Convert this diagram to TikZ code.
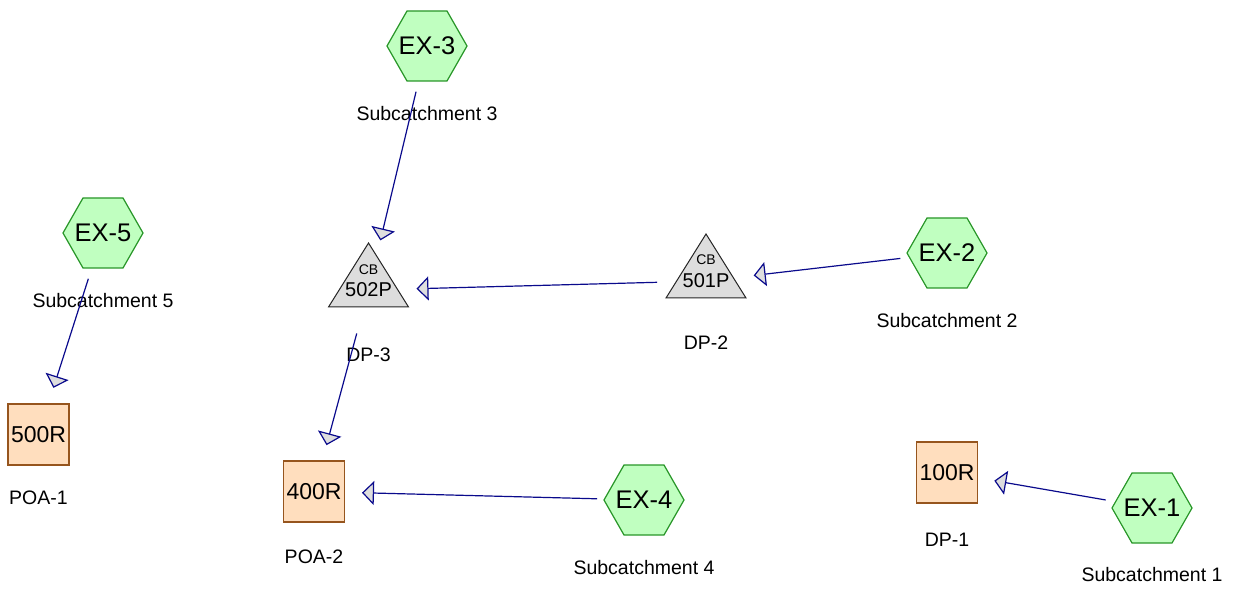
\documentclass[tikz,border=0pt]{standalone}
\usepackage{fontspec}
\setmainfont{Liberation Sans}
\usetikzlibrary{arrows.meta}

\definecolor{hexfill}{RGB}{192,255,192}
\definecolor{hexline}{RGB}{40,150,40}
\definecolor{reachfill}{RGB}{255,222,190}
\definecolor{reachline}{RGB}{150,85,30}
\definecolor{pondfill}{RGB}{221,221,221}
\definecolor{flowline}{RGB}{10,10,140}
\definecolor{tipfill}{RGB}{222,222,222}

\tikzset{
  hexcell/.style={draw=hexline, fill=hexfill, line width=1.2pt, line join=miter},
  subcat/.style={inner sep=0pt, font=\fontsize{25.5}{28}\selectfont},
  reach/.style={rectangle, minimum size=61pt, inner sep=0pt, draw=reachline,
    fill=reachfill, line width=1.2pt, font=\fontsize{23}{26}\selectfont},
  pondshape/.style={draw=black!85, fill=pondfill, line width=1pt, line join=miter},
  pondid/.style={inner sep=0pt, font=\fontsize{20}{22}\selectfont},
  pondtag/.style={inner sep=0pt, font=\fontsize{14}{16}\selectfont},
  caption/.style={inner sep=0pt, font=\fontsize{19.5}{22}\selectfont},
  flow/.style={draw=flowline, line width=1.2pt,
    -{Triangle[length=12pt,width=24pt,fill=tipfill]},
    shorten <=47pt, shorten >=48pt},
}

\begin{document}
\begin{tikzpicture}[x=1pt,y=-1pt]
\useasboundingbox (0,0) rectangle (1233,593);

% subcatchments: hexagon outlines, then their names
\foreach \cx/\cy in {1152/508, 947/253, 427/46, 644/500, 103/233}
  \draw[hexcell, shift={(\cx,\cy)}]
    (-40,0) -- (-20,-35) -- (20,-35) -- (40,0) -- (20,35) -- (-20,35) -- cycle;
\node[subcat] (ex1) at (1152,508) {EX-1};
\node[subcat] (ex2) at (947,253) {EX-2};
\node[subcat] (ex3) at (427,46) {EX-3};
\node[subcat] (ex4) at (644,500) {EX-4};
\node[subcat] (ex5) at (103,233) {EX-5};
\node[caption] (ex1-cap) at (1152,575) {Subcatchment 1};
\node[caption] (ex2-cap) at (947,321) {Subcatchment 2};
\node[caption] (ex3-cap) at (427,114) {Subcatchment 3};
\node[caption] (ex4-cap) at (644,568) {Subcatchment 4};
\node[caption] (ex5-cap) at (103,301) {Subcatchment 5};

% reaches
\node[reach] (r100) at (947,472.5) {100R};
\node[reach] (r400) at (314,491.5) {400R};
\node[reach] (r500) at (38.5,434.5) {500R};
\node[caption] (r100-cap) at (947,540) {DP-1};
\node[caption] (r400-cap) at (314,557) {POA-2};
\node[caption] (r500-cap) at (38.5,498) {POA-1};

% ponds (catch basins)
\draw[pondshape] (666,298) -- (706,234) -- (746,298) -- cycle;
\draw[pondshape] (328.5,307) -- (368.5,243) -- (408.5,307) -- cycle;
\node[pondtag] (p501-tag) at (706,260) {CB};
\node[pondid] (p501) at (706,281) {501P};
\node[pondtag] (p502-tag) at (368.5,269.5) {CB};
\node[pondid] (p502) at (368.5,290) {502P};
\node[caption] (p501-cap) at (706,343) {DP-2};
\node[caption] (p502-cap) at (368.5,355) {DP-3};

% routing
\draw[flow, shorten >=51pt] (ex3.center) -- (p502.center);
\draw[flow] (ex2.center) -- (p501.center);
\draw[flow, shorten <=49pt] (p501.center) -- (p502.center);
\draw[flow, shorten <=48pt, shorten >=49pt] (ex5.center) -- (r500.center);
\draw[flow, shorten <=45pt] (p502.center) -- (r400.center);
\draw[flow] (ex4.center) -- (r400.center);
\draw[flow] (ex1.center) -- (r100.center);
\end{tikzpicture}
\end{document}
